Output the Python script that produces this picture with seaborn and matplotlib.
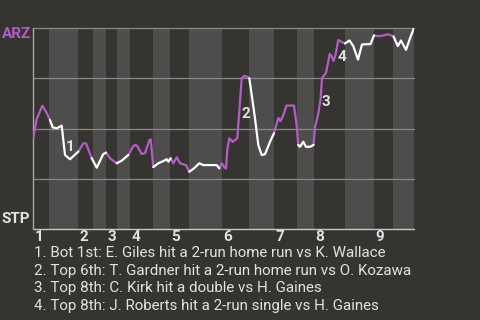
import matplotlib
matplotlib.use("Agg")
import matplotlib.pyplot as plt
import seaborn as sns
import pandas as pd

# ---------------- data ----------------
# game progress (horizontal position of each event) and ARZ win probability
progress = [0.3, 3.7, 9.3, 13, 17, 19.7, 23.7, 28.7, 32, 37, 45.3, 50.3, 53, 58.7,
            63.7, 70.3, 73, 77, 83.7, 88.7, 95.3, 100.3, 102.5, 104.3, 108.7, 112,
            116.5, 117.7, 120.3, 125.3, 130.3, 133.7, 135.3, 137.7, 140.3, 143.7,
            147, 153, 156.3, 161, 166.3, 170.3, 183.7, 186.3, 188.7, 191.5, 193,
            194.3, 196.3, 199.7, 204.3, 206.3, 208.7, 211, 213.7, 216.3, 218.7, 222,
            225.3, 228.7, 232, 237, 241, 245.3, 247.5, 250, 253.5, 261, 263.5, 265.3,
            267, 270.3, 273, 277, 280.5, 282, 285, 287.5, 289, 293, 295, 296.7, 298.5,
            300.5, 302.5, 305.3, 309, 312, 316.5, 320.3, 325, 329, 337.5, 341, 346,
            350.5, 355, 360.5, 364.8, 368, 373, 377, 381]
arz_wp = [0.454, 0.547, 0.613, 0.584, 0.542, 0.506, 0.501, 0.514, 0.368, 0.347,
          0.385, 0.426, 0.426, 0.352, 0.305, 0.373, 0.380, 0.352, 0.327, 0.340,
          0.368, 0.413, 0.418, 0.413, 0.373, 0.378, 0.443, 0.446, 0.308, 0.327,
          0.338, 0.347, 0.335, 0.352, 0.327, 0.357, 0.327, 0.318, 0.285, 0.302,
          0.327, 0.318, 0.318, 0.302, 0.327, 0.306, 0.301, 0.393, 0.451, 0.434,
          0.451, 0.584, 0.750, 0.761, 0.759, 0.750, 0.667, 0.551, 0.418, 0.368,
          0.372, 0.434, 0.476, 0.552, 0.537, 0.562, 0.614, 0.614, 0.522, 0.418,
          0.409, 0.434, 0.409, 0.409, 0.418, 0.507, 0.567, 0.642, 0.751, 0.776,
          0.826, 0.871, 0.861, 0.836, 0.866, 0.940, 0.930, 0.923, 0.938, 0.910,
          0.843, 0.918, 0.920, 0.963, 0.959, 0.963, 0.969, 0.958, 0.910, 0.938,
          0.891, 0.949, 1.0]
events_per_half = [5, 6, 3, 3, 2, 2, 8, 5, 5, 5, 12, 7, 7, 5, 13, 6, 4, 5]
half_edges = [0, 16, 45, 60, 73, 84, 97, 120, 137, 156, 189, 216, 241, 264, 281,
              312, 341, 360, 381]
innings = ["1", "2", "3", "4", "5", "6", "7", "8", "9"]
teams = ["ARZ", "STP"]
key_labels = ["1", "2", "3", "4"]
key_x = [36.7, 213.3, 293.3, 309]
key_wp = [0.409, 0.572, 0.632, 0.856]
key_plays = [
    "1. Bot 1st: E. Giles hit a 2-run home run vs K. Wallace",
    "2. Top 6th: T. Gardner hit a 2-run home run vs O. Kozawa",
    "3. Top 8th: C. Kirk hit a double vs H. Gaines",
    "4. Top 8th: J. Roberts hit a 2-run single vs H. Gaines",
]

# ---------------- style ----------------
BG = "#363430"
LIGHT = "#4e4d4b"
PURPLE = "#b25ec2"
TEXT = "#e2e2e2"

sns.set_theme(style="dark", rc={"figure.facecolor": BG, "axes.facecolor": BG})
plt.rcParams["font.family"] = ["Roboto", "DejaVu Sans"]

W, H = 480, 320
fig = plt.figure(figsize=(W / 100, H / 100), dpi=100)
L, R, T, B = 33, 414, 28, 229
ax = fig.add_axes([L / W, (H - B) / H, (R - L) / W, (B - T) / H])
ax.set_facecolor(BG)

# half-inning bands
for k in range(len(half_edges) - 1):
    ax.axvspan(half_edges[k], half_edges[k + 1], color=BG if k % 2 == 0 else LIGHT,
               lw=0, zorder=0)

# gridlines
for g in [0.25, 0.5, 0.75, 1.0]:
    ax.axhline(g, color="#8a8a8a", lw=0.9, zorder=1, clip_on=False)
ax.axhline(0, color="#c8c8c8", lw=1.0, zorder=1, clip_on=False)
ax.axvline(0, color="#a8a8a8", lw=1.0, zorder=1, clip_on=False)

# line segments coloured by batting team
rows = []
start = 0
for h, n in enumerate(events_per_half):
    team = teams[h % 2]
    for i in range(max(start - 1, 0), start + n):
        rows.append({"x": progress[i], "wp": arz_wp[i], "half": h, "team": team})
    start += n
df = pd.DataFrame(rows)
sns.lineplot(data=df, x="x", y="wp", units="half", hue="team", estimator=None,
             sort=False, palette={"ARZ": PURPLE, "STP": "white"}, legend=False,
             lw=1.6, ax=ax, zorder=3, solid_joinstyle="round", solid_capstyle="round")

ax.set_xlim(0, 381)
ax.set_ylim(0, 1)
for s in ax.spines.values():
    s.set_visible(False)
ax.set_xticks([])
ax.set_yticks([])
ax.set_xlabel("")
ax.set_ylabel("")

# key play markers
for lab, kx, ky in zip(key_labels, key_x, key_wp):
    ax.text(kx, ky, lab, color=TEXT, fontsize=11, fontweight="bold",
            ha="center", va="center", zorder=4)

# inning labels
for k, inn in enumerate(innings):
    ax.text(half_edges[2 * k] + 1.5, -0.04, inn, color=TEXT, fontsize=11,
            fontweight="bold", ha="left", va="center",
            transform=ax.get_xaxis_transform(), clip_on=False)

# team labels
fig.text(31 / W, 1 - 33.5 / H, teams[0], color=PURPLE, fontsize=11,
         fontweight="bold", ha="right", va="center")
fig.text(30 / W, 1 - 219 / H, teams[1], color=TEXT, fontsize=11,
         fontweight="bold", ha="right", va="center")

# key play descriptions
for i, txt in enumerate(key_plays):
    fig.text(34 / W, 1 - (253 + 17.7 * i) / H, txt, color=TEXT, fontsize=10.9,
             ha="left", va="center")

fig.savefig("out.png", dpi=100, facecolor=BG)
